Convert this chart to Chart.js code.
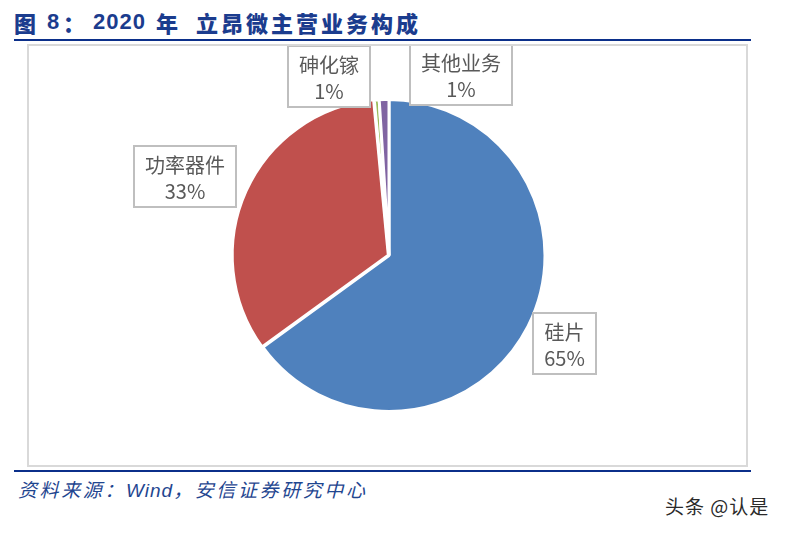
<!DOCTYPE html>
<html>
<head>
<meta charset="utf-8">
<script src="https://cdn.jsdelivr.net/npm/chart.js@4.4.1/dist/chart.umd.min.js"></script>
<style>
  html, body { margin: 0; padding: 0; background: #ffffff; }
  body { width: 785px; height: 533px; position: relative; overflow: hidden; }
  .t { position: absolute; font-weight: 900; color: #1b3c8e; line-height: 22px; white-space: nowrap; }
  .cjk { font-family: "Noto Sans CJK SC", sans-serif; }
  .lat { font-family: "Liberation Sans", Arial, sans-serif; font-weight: bold; }
  .rule { position: absolute; height: 2px; background: #0b2f8a; }
  #frame { position: absolute; left: 27px; top: 44px; width: 721px; height: 423px; box-sizing: border-box; border: 2px solid #d9d9d9; background: #fff; }
  #src { position: absolute; left: 18px; top: 478px; font-size: 19px; line-height: 22px; color: #1f4690; font-style: italic; letter-spacing: 2.6px; white-space: nowrap; font-family: "Noto Sans CJK SC", sans-serif; }
  #src .w { font-family: "Liberation Sans", Arial, sans-serif; letter-spacing: 1px; }
  #wm { position: absolute; left: 665px; top: 495px; font-size: 19px; line-height: 22px; color: #2a2a2a; white-space: nowrap; font-family: "Noto Sans CJK SC", sans-serif; letter-spacing: 1px; }
</style>
</head>
<body>
<div class="t cjk" style="left:14px; top:11px; font-size:22px;">图</div>
<div class="t lat" style="left:47px; top:11px; font-size:22px;">8</div>
<div class="t cjk" style="left:63px; top:11px; font-size:22px;">：</div>
<div class="t lat" style="left:93px; top:11px; font-size:22px; letter-spacing:1px;">2020</div>
<div class="t cjk" style="left:156px; top:11px; font-size:22px;">年</div>
<div class="t cjk" style="left:196px; top:11px; font-size:22px; letter-spacing:3px;">立昂微主营业务构成</div>
<div class="rule" style="left:14px; top:39px; width:737px;"></div>

<div id="frame"><canvas id="c"></canvas></div>

<div class="rule" style="left:14px; top:470px; width:737px;"></div>
<div id="src">资料来源：<span class="w">Wind</span>，安信证券研究中心</div>
<div id="wm">头条 @认是</div>

<script>
// ---- data ----
const categories = ["硅片", "功率器件", "砷化镓", "其他业务"];
const shareValues = [65.0, 33.5, 0.5, 1.0];
const pctLabels = ["65%", "33%", "1%", "1%"];
const sliceColors = ["#4f81bd", "#c0504d", "#9bbb59", "#8064a2"];

// label boxes drawn next to each slice, positioned from the arc geometry
const boxLabels = {
  id: "boxLabels",
  afterDatasetsDraw(chart) {
    const ctx = chart.ctx;
    const meta = chart.getDatasetMeta(0);
    ctx.save();
    ctx.font = '20px "Noto Sans CJK SC", sans-serif';
    ctx.textAlign = "center";
    ctx.textBaseline = "middle";
    const h = 61;
    const nudge = [[-3, -3], [-6, 10], [0, 2], [0, 0]];
    meta.data.forEach((arc, i) => {
      const p = arc.getProps(["x", "y", "startAngle", "endAngle", "outerRadius"], true);
      const mid = (p.startAngle + p.endAngle) / 2;
      const dx = Math.cos(mid), dy = Math.sin(mid);
      const lines = [categories[i], pctLabels[i]];
      const w = Math.round(Math.max(...lines.map(t => ctx.measureText(t).width)) + 22);
      let cx, cy;
      const tiny = (p.endAngle - p.startAngle) < 0.1;
      if (!tiny) {
        const ext = Math.abs(dx) * w / 2 + Math.abs(dy) * h / 2;
        cx = p.x + dx * (p.outerRadius + 2 + ext);
        cy = p.y + dy * (p.outerRadius + 2 + ext);
      } else {
        const side = i === 2 ? -1 : 1;
        const gap = i === 2 ? 19 : 21;
        cx = p.x + side * (gap + w / 2);
        cy = p.y - p.outerRadius - 25;
      }
      cx += nudge[i][0];
      cy += nudge[i][1];
      const left = Math.round(cx - w / 2), top = Math.round(cy - h / 2);
      ctx.fillStyle = "#ffffff";
      ctx.fillRect(left, top, w, h);
      ctx.strokeStyle = "#bfbfbf";
      ctx.lineWidth = 2;
      ctx.strokeRect(left, top, w, h);
      ctx.fillStyle = "#595959";
      ctx.fillText(lines[0], left + w / 2, top + 19);
      ctx.fillText(lines[1], left + w / 2, top + 45);
    });
    ctx.restore();
  }
};

new Chart(document.getElementById("c"), {
  type: "pie",
  data: {
    labels: categories,
    datasets: [{
      data: shareValues,
      backgroundColor: sliceColors,
      borderColor: "#ffffff",
      borderWidth: 3,
      offset: [0, 3, 0, 0],
      radius: 156
    }]
  },
  options: {
    responsive: true,
    maintainAspectRatio: false,
    animation: false,
    layout: { padding: { left: 3, right: 0, top: 0, bottom: 0 } },
    plugins: {
      legend: { display: false },
      tooltip: { enabled: false },
      title: { display: false }
    }
  },
  plugins: [boxLabels]
});
</script>
</body>
</html>
